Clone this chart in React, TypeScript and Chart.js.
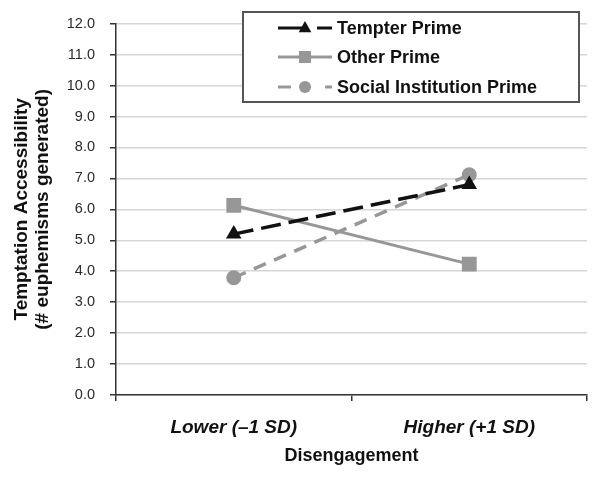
import React, { useEffect, useRef } from "react";
import { Chart, registerables } from "chart.js";

Chart.register(...registerables);

const categories = ["Lower (\u20131 SD)", "Higher (+1 SD)"];
const tempterPrime = [5.2, 6.8];
const otherPrime = [6.13, 4.23];
const socialPrime = [3.79, 7.12];
const seriesNames = ["Tempter Prime", "Other Prime", "Social Institution Prime"];
const yMin = 0;
const yMax = 12;
const yStep = 1;
const yTitle = ["Temptation Accessibility", "(# euphemisms generated)"];
const xTitle = "Disengagement";

const FONT = "'Liberation Sans', Arial, Helvetica, sans-serif";
const GRAY = "#979797";
const BLACK = "#111111";

const legendPlugin = {
  id: "insideLegend",
  afterDraw(chart: any) {
    const ctx = chart.ctx;
    ctx.save();
    const bx = 243, by = 12, bw = 336, bh = 90;
    ctx.fillStyle = "#ffffff";
    ctx.fillRect(bx, by, bw, bh);
    ctx.strokeStyle = "#555555";
    ctx.lineWidth = 2;
    ctx.strokeRect(bx, by, bw, bh);

    const rows = [28, 57, 87];
    const segs = [
      [[278, 303], [317, 332]],
      [[278, 332]],
      [[278, 291], [325, 332]],
    ];
    const mx = 305;
    chart.data.datasets.forEach((ds: any, i: number) => {
      const y = rows[i];
      ctx.strokeStyle = ds.borderColor;
      ctx.lineWidth = 3;
      ctx.setLineDash([]);
      segs[i].forEach((s: number[]) => {
        ctx.beginPath();
        ctx.moveTo(s[0], y);
        ctx.lineTo(s[1], y);
        ctx.stroke();
      });
      ctx.fillStyle = ds.pointBackgroundColor;
      ctx.beginPath();
      if (ds.pointStyle === "triangle") {
        const r = 7;
        ctx.moveTo(mx, y - r);
        ctx.lineTo(mx + r * 0.9, y + r * 0.6);
        ctx.lineTo(mx - r * 0.9, y + r * 0.6);
        ctx.closePath();
      } else if (ds.pointStyle === "rect") {
        ctx.rect(mx - 6, y - 6, 12, 12);
      } else {
        ctx.arc(mx, y, 6, 0, Math.PI * 2);
      }
      ctx.fill();
      ctx.fillStyle = BLACK;
      ctx.font = `bold 18px ${FONT}`;
      ctx.textBaseline = "middle";
      ctx.textAlign = "left";
      ctx.fillText(ds.label, 337, y + 1);
    });
    ctx.restore();
  },
};

export default function App() {
  const ref = useRef<HTMLCanvasElement>(null);
  useEffect(() => {
    if (!ref.current) return;
    const chart = new Chart(ref.current, {
      type: "line",
      data: {
        labels: categories,
        datasets: [
          {
            label: seriesNames[0],
            data: tempterPrime,
            borderColor: BLACK,
            backgroundColor: BLACK,
            pointBackgroundColor: BLACK,
            pointBorderColor: BLACK,
            borderWidth: 3.5,
            borderDash: [20, 8],
            pointStyle: "triangle",
            pointRadius: 9,
            pointBorderWidth: 0,
          },
          {
            label: seriesNames[1],
            data: otherPrime,
            borderColor: GRAY,
            backgroundColor: GRAY,
            pointBackgroundColor: GRAY,
            pointBorderColor: GRAY,
            borderWidth: 3,
            pointStyle: "rect",
            pointRadius: 10.5,
            pointBorderWidth: 0,
          },
          {
            label: seriesNames[2],
            data: socialPrime,
            borderColor: GRAY,
            backgroundColor: GRAY,
            pointBackgroundColor: GRAY,
            pointBorderColor: GRAY,
            borderWidth: 3.5,
            borderDash: [13, 9],
            pointStyle: "circle",
            pointRadius: 7.5,
            pointBorderWidth: 0,
          },
        ],
      },
      options: {
        responsive: false,
        animation: false,
        layout: { padding: { top: 21, right: 13, left: 0, bottom: 0 } },
        plugins: {
          legend: { display: false },
          tooltip: { enabled: false },
        },
        scales: {
          x: {
            type: "category",
            offset: true,
            grid: {
              offset: true,
              drawOnChartArea: false,
              drawTicks: true,
              tickLength: 6,
              tickColor: "#333333",
              lineWidth: 1.5,
            },
            border: { color: "#333333", width: 1.5 },
            ticks: {
              color: BLACK,
              padding: 15,
              maxRotation: 0,
              font: { family: FONT, size: 19, weight: "bold", style: "italic" },
            },
            title: {
              display: true,
              text: xTitle,
              color: BLACK,
              padding: { top: 0, bottom: 13 },
              font: { family: FONT, size: 18, weight: "bold" },
            },
            afterFit: (s: any) => {
              s.height = 85;
            },
          },
          y: {
            min: yMin,
            max: yMax,
            grid: {
              color: "#d6d6d6",
              lineWidth: 1.5,
              drawTicks: true,
              tickLength: 6,
              tickColor: "#333333",
            },
            border: { color: "#333333", width: 1.5 },
            ticks: {
              stepSize: yStep,
              color: "#2a2a2a",
              padding: 15,
              font: { family: FONT, size: 14.5 },
              callback: (v: any) => Number(v).toFixed(1),
            },
            title: {
              display: true,
              text: yTitle,
              color: BLACK,
              padding: { top: 11, bottom: 0 },
              font: { family: FONT, size: 19, weight: "bold", lineHeight: 1.1 },
            },
            afterFit: (s: any) => {
              s.width = 116;
            },
          },
        },
      },
      plugins: [legendPlugin],
    } as any);
    return () => chart.destroy();
  }, []);
  return (
    <div style={{ position: "absolute", left: 0, top: 0, width: 600, height: 480, background: "#fff" }}>
      <canvas ref={ref} width={600} height={480} style={{ display: "block" }} />
    </div>
  );
}
